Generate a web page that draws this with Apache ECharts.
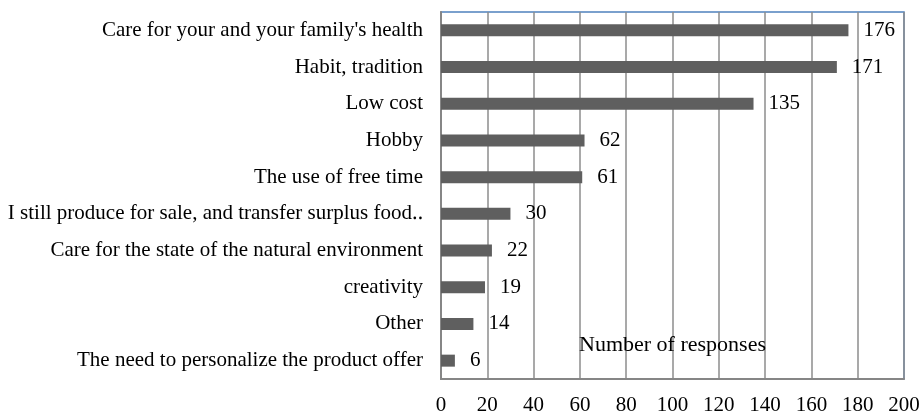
<!DOCTYPE html>
<html>
<head>
<meta charset="utf-8">
<script src="https://cdn.jsdelivr.net/npm/echarts@6/dist/echarts.min.js"></script>
<style>
  html, body { margin: 0; padding: 0; background: #fff; }
  #main { width: 922px; height: 417px; }
</style>
</head>
<body>
<div id="main"></div>
<script>
// reasons, top to bottom
var categories = [
    "Care for your and your family's health",
    'Habit, tradition',
    'Low cost',
    'Hobby',
    'The use of free time',
    'I still produce for sale, and transfer surplus food\u2025',
    'Care for the state of the natural environment',
    'creativity',
    'Other',
    'The need to personalize the product offer'
];
var responses = [176, 171, 135, 62, 61, 30, 22, 19, 14, 6];
var xTicks = [0, 20, 40, 60, 80, 100, 120, 140, 160, 180, 200];

var font = '"Liberation Serif", "Times New Roman", serif';
var myChart = echarts.init(document.getElementById('main'));

myChart.setOption({
    animation: false,
    grid: {
        left: 441, top: 12, right: 18, bottom: 38,
        containLabel: false,
        outerBoundsMode: 'none',
        show: true,
        borderColor: '#4f81bd',
        borderWidth: 1.5
    },
    xAxis: {
        type: 'value',
        min: xTicks[0],
        max: xTicks[xTicks.length - 1],
        interval: 20,
        name: 'Number of responses',
        nameLocation: 'middle',
        nameGap: -34,
        nameTextStyle: { fontFamily: font, fontSize: 22, color: '#000', verticalAlign: 'middle' },
        axisLine: { show: true, lineStyle: { color: '#868686', width: 2 } },
        axisTick: { show: false },
        axisLabel: { fontFamily: font, fontSize: 21, color: '#000', margin: 16 },
        splitLine: { show: true, lineStyle: { color: '#8c8c8c', width: 1.5 } }
    },
    yAxis: {
        type: 'category',
        data: categories,
        inverse: true,
        axisLine: { show: true, lineStyle: { color: '#868686', width: 2 } },
        axisTick: { show: false },
        axisLabel: { fontFamily: font, fontSize: 21, color: '#000', margin: 18 }
    },
    series: [{
        type: 'bar',
        data: responses,
        barWidth: 12,
        itemStyle: { color: '#5f5f5f' },
        label: {
            show: true,
            position: 'right',
            distance: 15,
            fontFamily: font,
            fontSize: 21,
            color: '#000'
        }
    }]
});
</script>
</body>
</html>
